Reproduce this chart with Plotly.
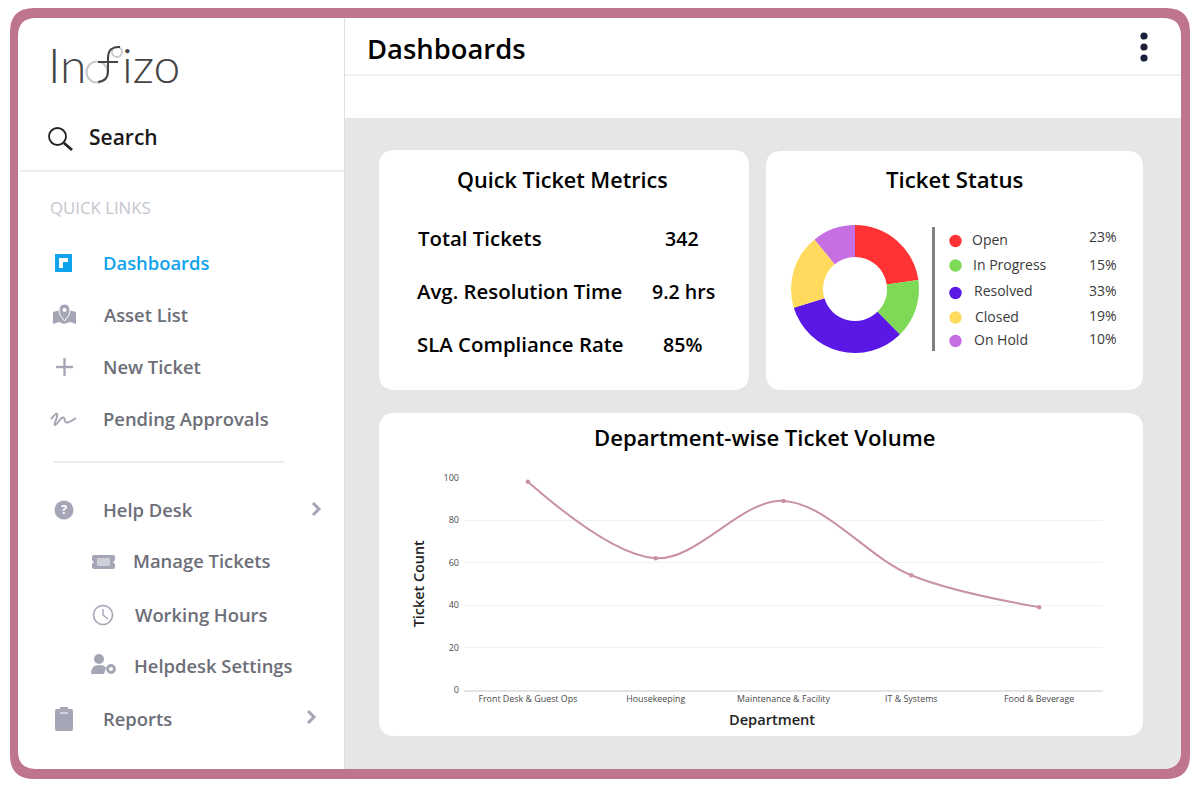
import plotly.graph_objects as go

W, H = 1200, 788

# chart data
departments = ["Front Desk & Guest Ops", "Housekeeping", "Maintenance & Facility", "IT & Systems", "Food & Beverage"]
ticket_counts = [98, 62, 89, 54, 39]
y_ticks = [0, 20, 40, 60, 80, 100]

statuses = ["Open", "In Progress", "Resolved", "Closed", "On Hold"]
status_pct = [23, 15, 33, 19, 10]
# slices as drawn: the On Hold wedge is a little wider than its printed 10%
status_slices = [23, 15, 33, 19, 11]
status_colors = ["#FF3333", "#7ED957", "#5A17E6", "#FFDA5C", "#C56FE3"]

metric_names = ["Total Tickets", "Avg. Resolution Time", "SLA Compliance Rate"]
metric_values = ["342", "9.2 hrs", "85%"]

FONT = "Open Sans"
FRAME = "#BF758C"
BG = "#E6E6E6"
NAV = "#6C6E78"
ICON = "#A4A6B5"
LINE = "#C9929F"

shapes = []
annotations = []


def fx(x):
    return x / W


def fy(y):
    return 1 - y / H


def rrect(x0, y0, x1, y1, r, color):
    # rounded box, paper coordinates so it sits under the plots
    pts = [
        ("M", x0 + r, y0), ("L", x1 - r, y0), ("Q", x1, y0, x1, y0 + r),
        ("L", x1, y1 - r), ("Q", x1, y1, x1 - r, y1), ("L", x0 + r, y1),
        ("Q", x0, y1, x0, y1 - r), ("L", x0, y0 + r), ("Q", x0, y0, x0 + r, y0),
    ]
    path(pts, fill=color, close=True)


def path(pts, fill=None, color=None, width=0, close=False):
    s = ""
    for p in pts:
        s += p[0]
        coords = p[1:]
        s += " ".join(f"{fx(coords[i]):.5f},{fy(coords[i + 1]):.5f}" for i in range(0, len(coords), 2)) + " "
    if close:
        s += "Z"
    shapes.append(dict(type="path", xref="paper", yref="paper", path=s, layer="below",
                       fillcolor=fill if fill else "rgba(0,0,0,0)",
                       line=dict(color=color if color else "rgba(0,0,0,0)", width=width)))


def box(x0, y0, x1, y1, color):
    shapes.append(dict(type="rect", xref="paper", yref="paper", x0=fx(x0), x1=fx(x1), y0=fy(y0), y1=fy(y1),
                       fillcolor=color, line_width=0, layer="below"))


def circle(cx, cy, r, fill=None, color=None, width=0):
    shapes.append(dict(type="circle", xref="paper", yref="paper", x0=fx(cx - r), x1=fx(cx + r),
                       y0=fy(cy - r), y1=fy(cy + r), fillcolor=fill if fill else "rgba(0,0,0,0)",
                       line=dict(color=color if color else "rgba(0,0,0,0)", width=width), layer="below"))


def seg(x0, y0, x1, y1, color, width):
    shapes.append(dict(type="line", xref="paper", yref="paper", x0=fx(x0), x1=fx(x1), y0=fy(y0), y1=fy(y1),
                       line=dict(color=color, width=width), layer="below"))


def label(text, x, y, size, color="#000000", weight=400, anchor="left", family=FONT):
    annotations.append(dict(text=text, x=fx(x), y=fy(y - 0.8), xref="paper", yref="paper", xanchor=anchor,
                            yanchor="middle", showarrow=False, borderpad=0, borderwidth=0,
                            font=dict(family=family, size=size, color=color, weight=weight)))


# frame and panels
rrect(10, 8, 1190, 779, 24, FRAME)
rrect(18, 18, 1181, 769, 18, "#FFFFFF")
path([("M", 345, 118), ("L", 1181, 118), ("L", 1181, 751), ("Q", 1181, 769, 1163, 769), ("L", 345, 769)], fill=BG, close=True)
seg(344.5, 18, 344.5, 769, "#DEDEDE", 1)
seg(345, 75, 1181, 75, "#E4E4E4", 1)
seg(20, 171, 344, 171, "#DADADA", 1)
seg(54, 462, 284, 462, "#DADADA", 1)

rrect(379, 150, 749, 390, 16, "#FFFFFF")
rrect(766, 151, 1143, 390, 16, "#FFFFFF")
rrect(379, 413, 1143, 736, 16, "#FFFFFF")

# logo
label("In", 48, 65, 48, "#444444", 300, family="Lato")
label("izo", 122, 65, 48, "#444444", 300, family="Lato")
circle(97, 72, 10.5, color="#C8CCCC", width=2.2)
circle(117, 52, 5, color="#C8CCCC", width=2)
path([("M", 120, 47), ("Q", 108, 46, 108, 58), ("L", 108, 72), ("Q", 108, 81, 98, 82)], color="#444444", width=2)
seg(98, 62, 118, 62, "#444444", 2)

# search
circle(57.5, 136.5, 8.5, color="#222222", width=1.8)
seg(64, 143, 72, 150, "#222222", 2.8)
label("Search", 89, 138, 21, "#1A1A1A", 600)

label("QUICK LINKS", 50, 208, 16.8, "#C3C6CF", 400)

# nav entries, text and place kept apart
nav_names = ["Dashboards", "Asset List", "New Ticket", "Pending Approvals", "Help Desk", "Manage Tickets",
             "Working Hours", "Helpdesk Settings", "Reports"]
nav_x = [103, 104, 103, 103, 103, 133, 135, 134, 103]
nav_y = [263, 315, 367, 419, 510, 561, 615, 666, 719]
for i, name in enumerate(nav_names):
    label(name, nav_x[i], nav_y[i], 18.4, "#0FA3EC" if i == 0 else NAV, 600)

# nav icons
box(55, 254, 72, 272, "#0FA3EC")
path([("M", 59, 258), ("L", 68, 258), ("L", 68, 262), ("L", 63, 262), ("L", 63, 268), ("L", 59, 268)], fill="#FFFFFF", close=True)
path([("M", 53, 312), ("L", 60, 310), ("L", 64, 314), ("L", 69, 310), ("L", 76, 312), ("L", 76, 324),
      ("L", 70, 322), ("L", 64, 324), ("L", 59, 322), ("L", 53, 324)], fill=ICON, close=True)
path([("M", 59, 311), ("Q", 59, 304, 64.5, 304), ("Q", 70, 304, 70, 311), ("Q", 70, 315, 64.5, 321),
      ("Q", 59, 315, 59, 311)], fill=ICON, color="#FFFFFF", width=1, close=True)
circle(64.5, 310, 2, fill="#FFFFFF")
seg(56, 367, 73, 367, ICON, 2.4)
seg(64.5, 358, 64.5, 376, ICON, 2.4)
path([("M", 51, 419), ("Q", 60, 408, 56, 420), ("Q", 52, 430, 59, 421), ("Q", 64, 414, 65, 421), ("Q", 66, 425, 76, 418)],
     color=ICON, width=2)
circle(64, 510, 9.5, fill=ICON)
label("?", 64, 510, 13, "#FFFFFF", 700, anchor="center")
for cx, cy in [(316, 509), (311, 717)]:
    path([("M", cx - 3, cy - 6), ("L", cx + 3, cy), ("L", cx - 3, cy + 6)], color=ICON, width=3)
rrect(92, 555, 115, 569, 2, ICON)
rrect(97, 558, 110, 566, 1, "#CDCED6")
circle(92, 562, 1.6, fill="#FFFFFF")
circle(115, 562, 1.6, fill="#FFFFFF")
circle(103, 615, 9.5, color=ICON, width=1.6)
path([("M", 103, 609), ("L", 103, 615), ("L", 108, 619)], color=ICON, width=1.4)
circle(99, 659, 5, fill=ICON)
path([("M", 91, 674), ("Q", 91, 665, 99, 665), ("Q", 105, 665, 106, 668), ("L", 104, 674)], fill=ICON, close=True)
circle(111, 669, 3.4, color=ICON, width=3)
rrect(55, 709, 73, 731, 2, ICON)
box(60, 707, 68, 712, ICON)
seg(60, 713, 68, 713, "#FFFFFF", 1)

# header
label("Dashboards", 367, 49, 27.4, "#000000", 600)
for cy in [36, 47, 58]:
    circle(1144, cy, 3.6, fill="#1B1F3B")

# metrics card
label("Quick Ticket Metrics", 562, 180, 21.6, "#000000", 600, anchor="center")
metric_y = [239, 292, 345]
metric_name_x = [418, 417, 417]
metric_val_x = [682, 683, 682]
for i, name in enumerate(metric_names):
    label(name, metric_name_x[i], metric_y[i], 20.4, "#000000", 600)
    label(metric_values[i], metric_val_x[i], metric_y[i], 19.6, "#000000", 600, anchor="center")

# status card
label("Ticket Status", 955, 180, 22.2, "#000000", 600, anchor="center")
seg(933.5, 227, 933.5, 351, "#808080", 3)
dot_y = [241, 265.5, 293, 317.5, 341]
name_x = [972, 973, 974, 975, 974]
name_y = [240, 265, 291, 317, 340]
pct_y = [237, 265, 291, 316, 339]
for i, name in enumerate(statuses):
    circle(955.5, dot_y[i], 6.2, fill=status_colors[i])
    label(name, name_x[i], name_y[i], 14, "#3A3A3A", 400)
    label(f"{status_pct[i]}%", 1117, pct_y[i], 14, "#3A3A3A", 400, anchor="right")

# line card titles
label("Department-wise Ticket Volume", 765, 438, 22.1, "#000000", 600, anchor="center")
label("Department", 772, 720, 14.6, "#222222", 600, anchor="center")

fig = go.Figure()
fig.add_trace(go.Scatter(
    x=departments, y=ticket_counts, mode="lines+markers",
    line=dict(color=LINE, width=2, shape="spline", smoothing=1),
    marker=dict(color=LINE, size=4.5),
    hoverinfo="x+y", showlegend=False,
))
fig.add_trace(go.Pie(
    labels=statuses, values=status_slices, hole=0.5, sort=False, direction="clockwise", rotation=0,
    marker=dict(colors=status_colors, line=dict(width=0)), textinfo="none", showlegend=False,
    domain=dict(x=[fx(791), fx(919)], y=[fy(353), fy(225)]),
))

fig.update_xaxes(
    type="category", range=[-0.5, 4.5], domain=[fx(464), fx(1103)], showgrid=False, zeroline=False,
    showline=True, linecolor="#E4E4E4", linewidth=2, ticks="", ticklabelstandoff=-1,
    tickfont=dict(family=FONT, size=8.9, color="#4A4A4A"),
)
fig.update_yaxes(
    range=[0, 100], domain=[fy(690), fy(477.5)], tickvals=y_ticks, showgrid=True, gridcolor="#F1F1F1",
    gridwidth=1, zeroline=False, showline=False, ticks="", ticklabelstandoff=4,
    tickfont=dict(family=FONT, size=9, color="#4A4A4A"),
    title=dict(text="Ticket Count", font=dict(family=FONT, size=14.4, color="#222222", weight=600), standoff=15),
)
fig.update_layout(
    width=W, height=H, margin=dict(l=0, r=0, t=0, b=0, autoexpand=False),
    paper_bgcolor="#FFFFFF", plot_bgcolor="rgba(0,0,0,0)",
    shapes=shapes, annotations=annotations, showlegend=False,
)
fig.write_html("out.html", post_script="document.body.style.margin='0';", config=dict(displayModeBar=False))
